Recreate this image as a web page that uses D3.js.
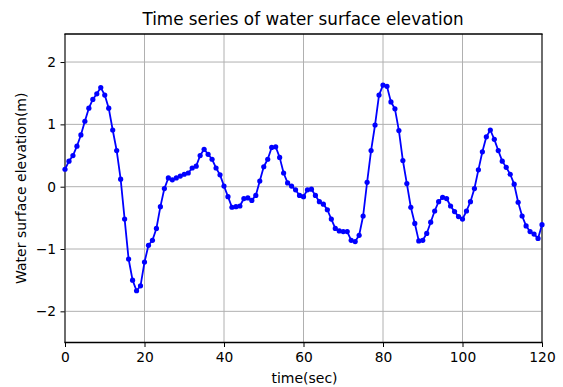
<!DOCTYPE html>
<html>
<head>
<meta charset="utf-8">
<script src="https://cdn.jsdelivr.net/npm/d3@7/dist/d3.min.js"></script>
<style>
  html, body { margin: 0; padding: 0; background: #fff; }
  svg { display: block; font-family: "DejaVu Sans", sans-serif; }
</style>
</head>
<body>
<svg id="chart" width="563" height="387"></svg>
<script>
// Sampled water surface elevation, one reading per second
const times = d3.range(0, 121);
const elevation = [
  0.28, 0.41, 0.50, 0.65, 0.83, 1.05, 1.26, 1.40, 1.49, 1.59,
  1.47, 1.26, 0.91, 0.58, 0.12, -0.52, -1.16, -1.50, -1.67, -1.59,
  -1.21, -0.94, -0.86, -0.67, -0.32, -0.03, 0.14, 0.11, 0.14, 0.17,
  0.20, 0.22, 0.30, 0.33, 0.50, 0.60, 0.52, 0.44, 0.30, 0.19,
  0.01, -0.16, -0.33, -0.32, -0.31, -0.19, -0.18, -0.22, -0.14, 0.09,
  0.32, 0.44, 0.63, 0.64, 0.47, 0.22, 0.06, 0.01, -0.05, -0.14,
  -0.16, -0.05, -0.04, -0.14, -0.24, -0.28, -0.37, -0.52, -0.67, -0.71,
  -0.72, -0.72, -0.86, -0.88, -0.78, -0.47, 0.07, 0.58, 0.99, 1.47,
  1.63, 1.61, 1.36, 1.25, 0.90, 0.42, 0.05, -0.33, -0.59, -0.87,
  -0.86, -0.75, -0.57, -0.39, -0.24, -0.17, -0.19, -0.31, -0.40, -0.48,
  -0.52, -0.39, -0.24, -0.03, 0.27, 0.56, 0.80, 0.91, 0.76, 0.58,
  0.41, 0.31, 0.20, 0.04, -0.25, -0.47, -0.63, -0.72, -0.76, -0.83,
  -0.61
];
const xTicks = [0, 20, 40, 60, 80, 100, 120];
const yTicks = [-2, -1, 0, 1, 2];

const plot = { left: 65, right: 542, top: 34, bottom: 342.5 };
const svg = d3.select("#chart");

const x = d3.scaleLinear().domain([0, 120]).range([plot.left, plot.right]);
const y = d3.scaleLinear().domain([-2.5, 2.45]).range([plot.bottom, plot.top]);

const fmt = d => (d < 0 ? "\u2212" + Math.abs(d) : String(d));

// grid
const grid = svg.append("g").attr("stroke", "#b0b0b0").attr("stroke-width", 1);
grid.selectAll(".gx").data(xTicks).join("line")
  .attr("x1", d => x(d)).attr("x2", d => x(d))
  .attr("y1", plot.top).attr("y2", plot.bottom);
grid.selectAll(".gy").data(yTicks).join("line")
  .attr("x1", plot.left).attr("x2", plot.right)
  .attr("y1", d => y(d)).attr("y2", d => y(d));

// axes
const xAxis = svg.append("g")
  .attr("transform", `translate(0,${plot.bottom})`)
  .call(d3.axisBottom(x).tickValues(xTicks).tickFormat(fmt).tickSizeOuter(0).tickSizeInner(4.5).tickPadding(5));
const yAxis = svg.append("g")
  .attr("transform", `translate(${plot.left},0)`)
  .call(d3.axisLeft(y).tickValues(yTicks).tickFormat(fmt).tickSizeOuter(0).tickSizeInner(4.5).tickPadding(4.5));
[xAxis, yAxis].forEach(a => {
  a.select(".domain").remove();
  a.selectAll("text").attr("font-size", 13.8).attr("fill", "#000")
    .style("font-family", "'DejaVu Sans', sans-serif");
  a.selectAll(".tick line").attr("stroke", "#000").attr("stroke-width", 1);
});

// frame
svg.append("line").attr("x1", plot.left).attr("x2", plot.left)
  .attr("y1", plot.top).attr("y2", plot.bottom).attr("stroke", "#333").attr("stroke-width", 1.3);
svg.append("line").attr("x1", plot.right).attr("x2", plot.right)
  .attr("y1", plot.top).attr("y2", plot.bottom).attr("stroke", "#333").attr("stroke-width", 1.3);
svg.append("line").attr("x1", plot.left - 0.6).attr("x2", plot.right + 0.6)
  .attr("y1", plot.top).attr("y2", plot.top).attr("stroke", "#000").attr("stroke-width", 1.6);
svg.append("line").attr("x1", plot.left - 0.6).attr("x2", plot.right + 0.6)
  .attr("y1", plot.bottom).attr("y2", plot.bottom).attr("stroke", "#000").attr("stroke-width", 1.6);

// series
const pts = times.map((t, i) => [t, elevation[i]]);
svg.append("path").datum(pts)
  .attr("fill", "none").attr("stroke", "#0000ff").attr("stroke-width", 1.8)
  .attr("stroke-linejoin", "round")
  .attr("d", d3.line().x(d => x(d[0])).y(d => y(d[1])));
svg.append("g").attr("fill", "#0000ff").selectAll("circle").data(pts).join("circle")
  .attr("cx", d => x(d[0])).attr("cy", d => y(d[1])).attr("r", 2.6);

// labels
svg.append("text").attr("x", (plot.left + plot.right) / 2 - 0.5).attr("y", 25)
  .attr("text-anchor", "middle").attr("font-size", 16.8).attr("fill", "#000")
  .text("Time series of water surface elevation");
svg.append("text").attr("x", (plot.left + plot.right) / 2 + 1).attr("y", 383)
  .attr("text-anchor", "middle").attr("font-size", 14).attr("fill", "#000")
  .text("time(sec)");
svg.append("text")
  .attr("transform", `translate(26,${(plot.top + plot.bottom) / 2}) rotate(-90)`)
  .attr("text-anchor", "middle").attr("font-size", 14).attr("fill", "#000")
  .text("Water surface elevation(m)");
</script>
</body>
</html>
